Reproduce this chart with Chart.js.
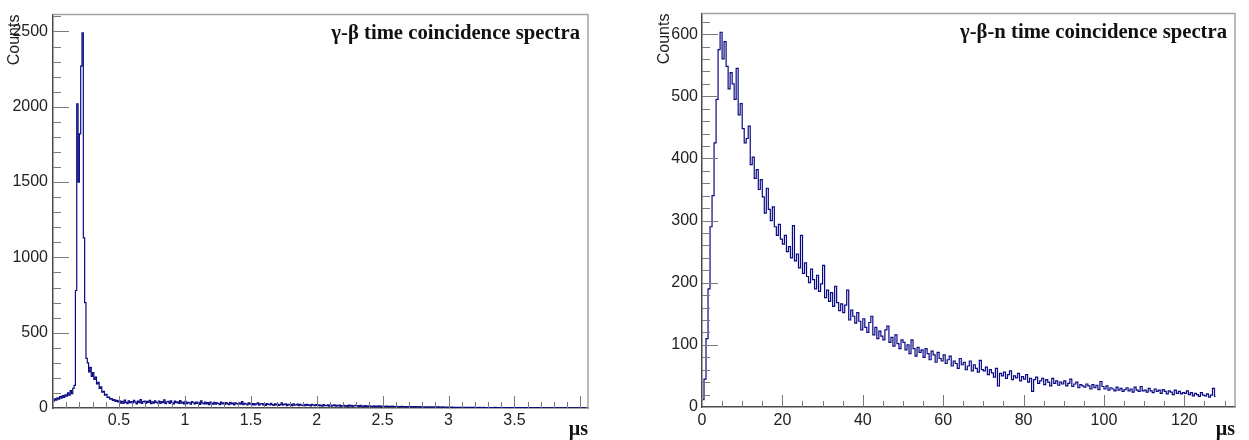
<!DOCTYPE html>
<html><head><meta charset="utf-8">
<script src="https://cdn.jsdelivr.net/npm/chart.js@4.4.1/dist/chart.umd.min.js"></script>
<style>
html,body{margin:0;padding:0;background:#fff;width:1249px;height:440px;overflow:hidden}
canvas{position:absolute;top:0}
#c1{left:0;width:600px;height:440px}
#c2{left:600px;width:649px;height:440px}
</style></head><body>
<canvas id="c1" width="600" height="440"></canvas>
<canvas id="c2" width="649" height="440"></canvas>
<script>
// ---------- γ-β spectrum (bin width 0.01 µs, starting at 0) ----------
const gbTitle = 'γ-β time coincidence spectra';
const gbBinWidth = 0.01;
const gbCounts = [
  45, 60, 52, 68, 58, 75, 66, 82, 70, 88,
  78, 100, 85, 115, 95, 130, 150, 780, 2020, 1500,
  1820, 2270, 2490, 1130, 700, 330, 300, 240, 270, 210,
  235, 190, 205, 160, 170, 130, 140, 105, 110, 85,
  90, 70, 72, 58, 62, 50, 55, 44, 50, 40,
  48, 33, 44, 30, 52, 38, 29, 47, 36, 43,
  34, 51, 39, 28, 45, 36, 55, 31, 42, 46,
  30, 44, 37, 50, 29, 41, 33, 48, 38, 32,
  45, 30, 42, 36, 54, 29, 40, 44, 31, 47,
  36, 28, 46, 35, 41, 30, 49, 33, 40, 27,
  44, 29, 38, 34, 25, 42, 35, 28, 40, 31,
  38, 24, 47, 32, 27, 40, 28, 36, 23, 39,
  33, 26, 37, 25, 35, 30, 22, 39, 28, 34,
  24, 36, 29, 23, 38, 27, 33, 21, 35, 29,
  25, 34, 26, 42, 22, 31, 27, 20, 34, 26,
  31, 21, 29, 20, 28, 34, 19, 27, 30, 21,
  27, 18, 29, 24, 20, 31, 22, 17, 28, 21,
  26, 17, 23, 35, 19, 24, 27, 16, 25, 20,
  24, 16, 27, 19, 21, 26, 15, 24, 19, 17,
  23, 15, 25, 18, 21, 14, 24, 19, 16, 22,
  17, 21, 14, 20, 13, 23, 16, 15, 21, 12,
  19, 13, 17, 21, 12, 18, 14, 19, 11, 16,
  18, 12, 16, 11, 19, 13, 17, 10, 15, 17,
  12, 16, 11, 17, 13, 9, 16, 11, 14, 10,
  15, 11, 10, 15, 9, 13, 11, 15, 8, 12,
  12, 10, 11, 13, 9, 11, 10, 12, 9, 10,
  11, 9, 10, 8, 11, 9, 10, 8, 9, 10,
  8, 9, 7, 9, 8, 10, 7, 8, 9, 7,
  8, 7, 8, 6, 8, 7, 6, 8, 7, 6,
  7, 6, 7, 5, 6, 7, 5, 6, 5, 6,
  5, 4, 6, 4, 5, 4, 5, 3, 5, 4,
  4, 5, 3, 4, 4, 3, 5, 3, 4, 3,
  4, 3, 3, 4, 2, 3, 4, 3, 2, 3,
  3, 2, 3, 3, 2, 4, 2, 3, 2, 3,
  2, 3, 2, 2, 3, 2, 2, 3, 2, 2,
  2, 1, 2, 2, 1, 2, 1, 2, 1, 2,
  1, 2, 1, 1, 2, 1, 1, 2, 1, 1,
  1, 1, 2, 1, 1, 1, 0, 1, 1, 1,
  1, 0, 1, 1, 0, 1, 1, 0, 1, 1,
  0, 1, 0, 1, 1, 0, 0, 1, 0, 1,
  0, 0, 1, 0, 0
];
const gbXRange = [0, 4.058];
const gbYRange = [0, 2612];
const gbXLabels = [0.5, 1, 1.5, 2, 2.5, 3, 3.5];
const gbYLabels = [0, 500, 1000, 1500, 2000, 2500];
const gbXMajorStep = 0.5, gbXMinorStep = 0.1;
const gbYMajorStep = 500, gbYMinorStep = 100;

// ---------- γ-β-n spectrum (bin width 0.5 µs, starting at 0) ----------
const gbnTitle = 'γ-β-n time coincidence spectra';
const gbnBinWidth = 0.5;
const gbnCounts = [
  12, 45, 110, 190, 290, 340, 425, 495, 575, 603,
  560, 588, 548, 512, 538, 520, 495, 545, 470, 488,
  448, 425, 432, 452, 390, 402, 368, 382, 350, 366,
  338, 312, 352, 318, 300, 322, 290, 276, 294, 270,
  262, 276, 250, 258, 240, 292, 235, 246, 224, 276,
  215, 232, 210, 200, 222, 205, 190, 212, 186, 198,
  228, 176, 188, 170, 184, 162, 194, 168, 155, 166,
  152, 164, 188, 140, 156, 146, 135, 152, 138, 124,
  142, 128, 120, 136, 146, 116, 128, 110, 122, 114,
  108, 124, 130, 104, 112, 98, 116, 102, 94, 108,
  104, 92, 100, 86, 108, 94, 82, 96, 88, 92,
  80, 94, 86, 76, 90, 84, 72, 88, 78, 74,
  84, 70, 76, 82, 66, 74, 70, 62, 78, 68,
  72, 60, 66, 74, 58, 68, 62, 56, 75, 60,
  58, 64, 52, 60, 55, 48, 62, 34, 54, 50,
  56, 46, 52, 58, 44, 50, 47, 54, 42, 49,
  45, 52, 40, 46, 25, 44, 48, 38, 42, 46,
  36, 44, 40, 34, 46, 38, 42, 35, 40, 37,
  42, 34, 38, 45, 33, 37, 40, 31, 36, 34,
  32, 37, 34, 29, 36, 31, 35, 28, 41, 33,
  29, 34, 27, 31, 29, 26, 32, 27, 30, 25,
  28, 31, 26, 29, 24, 32, 27, 25, 33, 26,
  27, 24, 30, 26, 23, 29, 25, 27, 22, 28,
  25, 21, 26, 24, 20, 27, 22, 25, 21, 23,
  22, 26, 20, 23, 18, 22, 20, 17, 23, 19,
  18, 21, 16, 19, 30, 17
];
const gbnXRange = [0, 132.6];
const gbnYRange = [0, 633];
const gbnXLabels = [0, 20, 40, 60, 80, 100, 120];
const gbnYLabels = [0, 100, 200, 300, 400, 500, 600];
const gbnXMajorStep = 20, gbnXMinorStep = 5;
const gbnYMajorStep = 100, gbnYMinorStep = 20;

const xTitle = 'µs';
const yTitle = 'Counts';

// ---------- styling ----------
const LINE = '#0a0a84';
const AXIS = '#4a4a4a';
const TICK = '#7a7a7a';
const FRAME = '#a2a2a2';
const SANS = "'Liberation Sans', Arial, sans-serif";
const SERIF = "'Liberation Serif', 'Times New Roman', serif";

function stepsUpTo(step, max) {
  const out = [];
  for (let k = 1; k * step <= max + 1e-9; k++) out.push(+(k * step).toFixed(6));
  return out;
}

const frameTicks = {
  id: 'frameTicks',
  afterDatasetsDraw(chart, args, o) {
    const {ctx, chartArea: a, scales: {x, y}} = chart;
    ctx.save();
    ctx.strokeStyle = TICK;
    ctx.lineWidth = 1;
    ctx.beginPath();
    const isMajor = (v, st) => Math.abs(v / st - Math.round(v / st)) < 1e-6;
    stepsUpTo(o.xMinor, x.max).forEach(v => {
      const px = Math.round(x.getPixelForValue(v)) + 0.5;
      const len = isMajor(v, o.xMajor) ? 12 : 6;
      ctx.moveTo(px, a.bottom); ctx.lineTo(px, a.bottom - len);
    });
    stepsUpTo(o.yMinor, y.max).forEach(v => {
      const py = Math.round(y.getPixelForValue(v)) + 0.5;
      const len = isMajor(v, o.yMajor) ? 16 : 8;
      ctx.moveTo(a.left, py); ctx.lineTo(a.left + len, py);
    });
    ctx.stroke();
    ctx.strokeStyle = FRAME;
    ctx.lineWidth = 1.5;
    ctx.beginPath();
    ctx.moveTo(a.left, a.top); ctx.lineTo(a.right, a.top); ctx.lineTo(a.right, a.bottom);
    ctx.stroke();
    ctx.font = 'bold 20.7px ' + SERIF;
    ctx.fillStyle = '#111';
    ctx.textAlign = 'right';
    ctx.textBaseline = 'alphabetic';
    ctx.fillText(o.title, a.right - 8, a.top + 24);
    ctx.restore();
  }
};

// one point per bin at the bin centre; drawn as a step histogram
function histPoints(counts, bw) {
  return counts.map((v, i) => ({x: (i + 0.5) * bw, y: v}));
}

function makeChart(id, c) {
  return new Chart(document.getElementById(id), {
    type: 'line',
    data: {datasets: [{
      data: histPoints(c.counts, c.bw), stepped: 'middle',
      borderColor: LINE, borderWidth: 1.2, pointRadius: 0, fill: false
    }]},
    options: {
      responsive: false, animation: false,
      layout: {padding: c.pad},
      plugins: {
        legend: {display: false}, tooltip: {enabled: false},
        frameTicks: {title: c.title, xMajor: c.xMaj, xMinor: c.xMin, yMajor: c.yMaj, yMinor: c.yMin}
      },
      scales: {
        x: {
          type: 'linear', min: c.xr[0], max: c.xr[1],
          grid: {display: true, drawOnChartArea: false, drawTicks: false},
          border: {display: true, color: AXIS, width: 1.5},
          afterBuildTicks: s => { s.ticks = c.xLabels.map(v => ({value: v})); },
          afterFit: s => { s.height = c.xH; },
          ticks: {autoSkip: false, maxRotation: 0, padding: c.xPad, color: '#222',
                  font: {family: SANS, size: 16}, callback: v => String(v)},
          title: {display: true, text: xTitle, align: 'end', color: '#111',
                  font: {family: SERIF, size: 20, weight: 'bold', lineHeight: 1},
                  padding: {top: 0, bottom: 0}}
        },
        y: {
          type: 'linear', min: c.yr[0], max: c.yr[1],
          grid: {display: true, drawOnChartArea: false, drawTicks: false},
          border: {display: true, color: AXIS, width: 1.5},
          afterBuildTicks: s => { s.ticks = c.yLabels.map(v => ({value: v})); },
          afterFit: s => { s.width = c.yW; },
          ticks: {autoSkip: false, padding: c.yPad, color: '#222',
                  font: {family: SANS, size: 16}, callback: v => String(v)},
          title: {display: true, text: yTitle, align: 'end', color: '#222',
                  font: {family: SANS, size: 16, lineHeight: 1.2},
                  padding: {top: 5.4, bottom: 0}}
        }
      }
    },
    plugins: [frameTicks]
  });
}

makeChart('c1', {
  counts: gbCounts, bw: gbBinWidth, title: gbTitle,
  xr: gbXRange, yr: gbYRange, xLabels: gbXLabels, yLabels: gbYLabels,
  xMaj: gbXMajorStep, xMin: gbXMinorStep, yMaj: gbYMajorStep, yMin: gbYMinorStep,
  pad: {left: 0, top: 11, right: 12, bottom: 0}, xH: 32, yW: 53, xPad: 3, yPad: 5
});
makeChart('c2', {
  counts: gbnCounts, bw: gbnBinWidth, title: gbnTitle,
  xr: gbnXRange, yr: gbnYRange, xLabels: gbnXLabels, yLabels: gbnYLabels,
  xMaj: gbnXMajorStep, xMin: gbnXMinorStep, yMaj: gbnYMajorStep, yMin: gbnYMinorStep,
  pad: {left: 50, top: 11, right: 14, bottom: 0}, xH: 33, yW: 52, xPad: 4, yPad: 4
});
</script></body></html>
